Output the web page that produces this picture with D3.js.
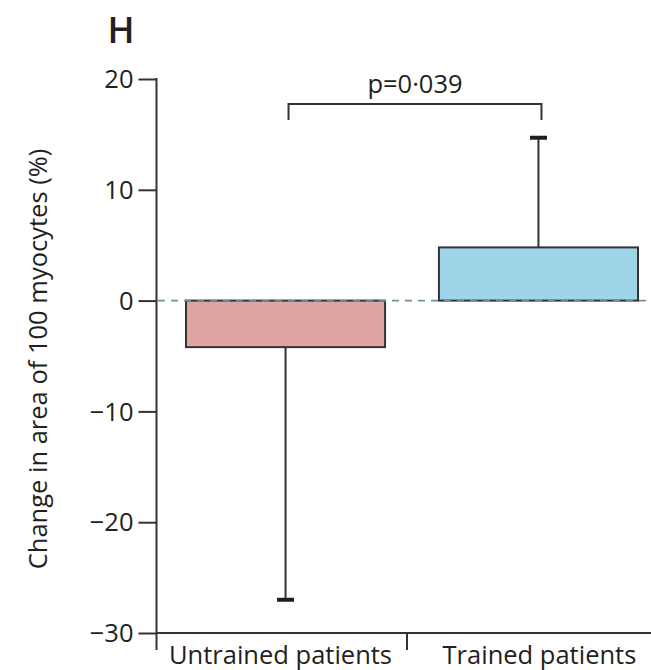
<!DOCTYPE html>
<html>
<head>
<meta charset="utf-8">
<script src="https://cdn.jsdelivr.net/npm/d3@7"></script>
<style>
  html, body { margin: 0; padding: 0; background: #fff; }
  svg { display: block; }
  text { font-family: "Open Sans", sans-serif; fill: #231f20; }
</style>
</head>
<body>
<svg id="chart" width="651" height="670"></svg>
<script>
const categories = ["Untrained patients", "Trained patients"];
const means = [-4.2, 4.8];
const errorEnds = [-27.0, 14.7];
const yTicks = [-30, -20, -10, 0, 10, 20];
const yTickLabels = ["\u221230", "\u221220", "\u221210", "0", "10", "20"];
const pLabel = "p=0\u00b7039";
const panelLabel = "H";
const yTitle = "Change in area of 100 myocytes (%)";
const colors = ["#e0a5a0", "#9fd5e8"];

const svg = d3.select("#chart");
const ink = "#333333";

const y = d3.scaleLinear().domain([-30, 20]).range([633, 79]);
const xBar = d3.scaleBand().domain(categories).range([156, 668])
  .paddingInner(0.213).paddingOuter(0.1186);
const xAxisBand = d3.scaleBand().domain(categories).range([156, 658]).padding(0);

// Bars
svg.append("g").selectAll("rect").data(categories).join("rect")
  .attr("x", d => xBar(d))
  .attr("width", xBar.bandwidth())
  .attr("y", (d, i) => y(Math.max(0, means[i])))
  .attr("height", (d, i) => Math.abs(y(means[i]) - y(0)))
  .attr("fill", (d, i) => colors[i])
  .attr("stroke", ink)
  .attr("stroke-width", 2);

// Zero dashed line
svg.append("line")
  .attr("x1", 158).attr("x2", 651)
  .attr("y1", y(0)).attr("y2", y(0))
  .attr("stroke", "#6e919d")
  .attr("stroke-width", 1.6)
  .attr("stroke-dasharray", "7,6");

// Error bars
const eb = svg.append("g");
categories.forEach((c, i) => {
  const cx = xBar(c) + xBar.bandwidth() / 2;
  eb.append("line")
    .attr("x1", cx).attr("x2", cx)
    .attr("y1", y(means[i])).attr("y2", y(errorEnds[i]))
    .attr("stroke", ink).attr("stroke-width", 2);
  eb.append("line")
    .attr("x1", cx - 8.5).attr("x2", cx + 8.5)
    .attr("y1", y(errorEnds[i])).attr("y2", y(errorEnds[i]))
    .attr("stroke", "#1e1e1e").attr("stroke-width", 4);
});

// Y axis
const yAxis = d3.axisLeft(y).tickValues(yTicks)
  .tickFormat((d, i) => yTickLabels[i])
  .tickSize(18).tickPadding(5).tickSizeOuter(0);
const gy = svg.append("g").attr("transform", "translate(156.5,0)").call(yAxis);
gy.select(".domain").remove();
gy.append("line").attr("x1", 0).attr("x2", 0).attr("y1", 78).attr("y2", 650)
  .attr("stroke", ink).attr("stroke-width", 2);
gy.selectAll(".tick line").attr("stroke", ink).attr("stroke-width", 2);
gy.selectAll(".tick text")
  .style("font-family", "'Open Sans', sans-serif")
  .style("font-size", "25.5px")
  .attr("fill", "#231f20")
  .attr("dy", "0.34em");

// X axis
const gx = svg.append("g");
gx.append("line").attr("x1", 156).attr("x2", 651).attr("y1", 633).attr("y2", 633)
  .attr("stroke", ink).attr("stroke-width", 2);
gx.append("line")
  .attr("x1", xAxisBand(categories[1])).attr("x2", xAxisBand(categories[1]))
  .attr("y1", 633).attr("y2", 650)
  .attr("stroke", ink).attr("stroke-width", 2);
gx.selectAll("text.xl").data(categories).join("text")
  .attr("class", "xl")
  .attr("x", (d, i) => xBar(d) + xBar.bandwidth() / 2 + (i === 0 ? -5 : 1))
  .attr("y", 664)
  .attr("text-anchor", "middle")
  .style("font-size", "25.5px")
  .text(d => d);

// Significance bracket
const bx1 = xBar(categories[0]) + xBar.bandwidth() / 2 + 3;
const bx2 = xBar(categories[1]) + xBar.bandwidth() / 2 + 3;
svg.append("path")
  .attr("d", `M${bx1},120V104H${bx2}V120`)
  .attr("fill", "none").attr("stroke", ink).attr("stroke-width", 2);
svg.append("text")
  .attr("x", (bx1 + bx2) / 2).attr("y", 93)
  .attr("text-anchor", "middle")
  .style("font-size", "25.5px")
  .text(pLabel);

// Panel label
svg.append("text")
  .attr("x", 121).attr("y", 43)
  .attr("text-anchor", "middle")
  .style("font-size", "36px")
  .style("font-weight", "600")
  .text(panelLabel);

// Y title
svg.append("text")
  .attr("transform", "translate(47,359) rotate(-90)")
  .attr("text-anchor", "middle")
  .style("font-size", "25.5px")
  .text(yTitle);
</script>
</body>
</html>
